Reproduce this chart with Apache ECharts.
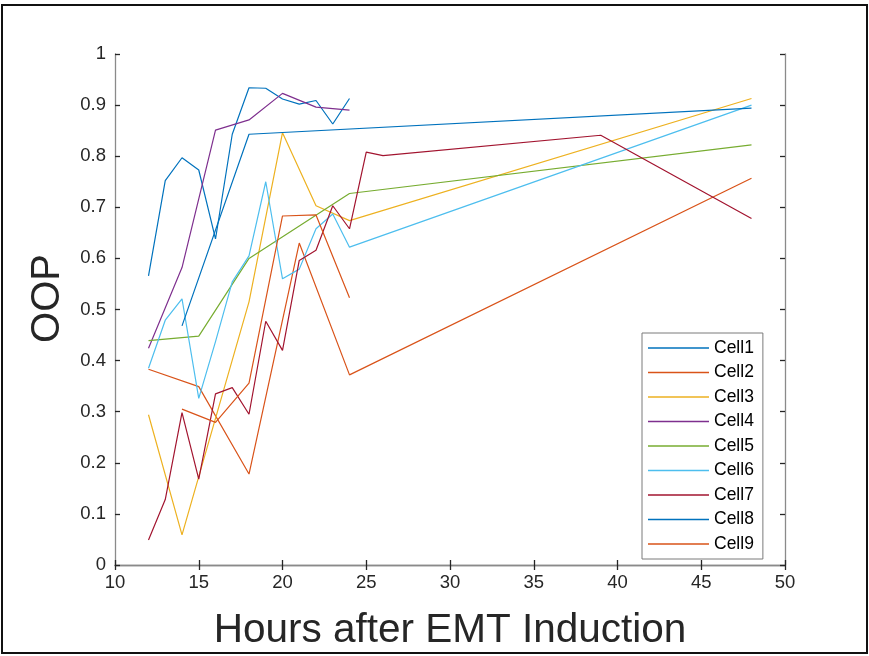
<!DOCTYPE html>
<html>
<head>
<meta charset="utf-8">
<script src="https://cdn.jsdelivr.net/npm/echarts@6/dist/echarts.min.js"></script>
<style>
  html, body { margin: 0; padding: 0; background: #fff; }
  #chart { width: 869px; height: 656px; }
</style>
</head>
<body>
<div id="chart"></div>
<script>
// Order parameter (OOP) per cell, sampled at hours after EMT induction
const cell1Hours = [12, 13, 14, 15, 16, 17, 18, 19, 20, 21, 22, 23, 24];
const cell1Vals  = [0.566, 0.752, 0.797, 0.773, 0.638, 0.843, 0.934, 0.933, 0.912, 0.902, 0.909, 0.863, 0.913];

const cell2Hours = [12, 15, 18, 21, 24, 48];
const cell2Vals  = [0.383, 0.349, 0.178, 0.630, 0.372, 0.757];

const cell3Hours = [12, 14, 18, 20, 22, 24, 48];
const cell3Vals  = [0.294, 0.059, 0.515, 0.846, 0.703, 0.674, 0.913];

const cell4Hours = [12, 14, 16, 18, 20, 22, 24];
const cell4Vals  = [0.424, 0.582, 0.851, 0.871, 0.923, 0.896, 0.890];

const cell5Hours = [12, 15, 18, 24, 48];
const cell5Vals  = [0.439, 0.448, 0.600, 0.727, 0.822];

const cell6Hours = [12, 13, 14, 15, 16, 17, 18, 19, 20, 21, 22, 23, 24, 48];
const cell6Vals  = [0.385, 0.479, 0.521, 0.326, 0.437, 0.554, 0.605, 0.750, 0.560, 0.579, 0.658, 0.687, 0.622, 0.900];

const cell7Hours = [12, 13, 14, 15, 16, 17, 18, 19, 20, 21, 22, 23, 24, 25, 26, 39, 48];
const cell7Vals  = [0.049, 0.128, 0.298, 0.168, 0.335, 0.347, 0.295, 0.477, 0.420, 0.596, 0.616, 0.703, 0.658, 0.808, 0.801, 0.841, 0.678];

const cell8Hours = [14, 18, 48];
const cell8Vals  = [0.468, 0.843, 0.894];

const cell9Hours = [14, 16, 18, 20, 22, 24];
const cell9Vals  = [0.305, 0.279, 0.356, 0.683, 0.685, 0.523];

const cellNames  = ['Cell1', 'Cell2', 'Cell3', 'Cell4', 'Cell5', 'Cell6', 'Cell7', 'Cell8', 'Cell9'];
const cellHours  = [cell1Hours, cell2Hours, cell3Hours, cell4Hours, cell5Hours, cell6Hours, cell7Hours, cell8Hours, cell9Hours];
const cellValues = [cell1Vals, cell2Vals, cell3Vals, cell4Vals, cell5Vals, cell6Vals, cell7Vals, cell8Vals, cell9Vals];
const cellColors = ['#0072BD', '#D95319', '#EDB120', '#7E2F8E', '#77AC30', '#4DBEEE', '#A2142F', '#0072BD', '#D95319'];

const xTitle = 'Hours after EMT Induction';
const yTitle = 'OOP';

const FONT = '"Liberation Sans", Arial, Helvetica, sans-serif';
const TEXT = '#262626';

const series = cellNames.map((name, i) => ({
  name: name,
  type: 'line',
  xAxisIndex: 0,
  yAxisIndex: 0,
  symbol: 'none',
  silent: true,
  animation: false,
  lineStyle: { color: cellColors[i], width: 1.2 },
  itemStyle: { color: cellColors[i] },
  data: cellHours[i].map((h, k) => [h, cellValues[i][k]])
}));

const tickStyle = { show: true, inside: true, length: 5, lineStyle: { color: TEXT, width: 1.3 } };
const lineStyle = { show: true, lineStyle: { color: '#8a8a8a', width: 1.3 } };

const option = {
  backgroundColor: '#fff',
  animation: false,
  grid: { left: 115, right: 84, top: 54, bottom: 91, containLabel: false },
  xAxis: [
    {
      type: 'value', position: 'bottom', min: 10, max: 50, interval: 5,
      axisLine: lineStyle, axisTick: tickStyle, splitLine: { show: false },
      axisLabel: { color: TEXT, fontSize: 18.5, fontFamily: FONT, margin: 8 },
      name: xTitle, nameLocation: 'middle', nameGap: 45,
      nameTextStyle: { color: TEXT, fontSize: 40.5, fontFamily: FONT }
    },
    {
      type: 'value', position: 'top', min: 10, max: 50, interval: 5,
      axisLine: lineStyle, axisTick: tickStyle, splitLine: { show: false },
      axisLabel: { show: false }
    }
  ],
  yAxis: [
    {
      type: 'value', position: 'left', min: 0, max: 1, interval: 0.1,
      axisLine: lineStyle, axisTick: tickStyle, splitLine: { show: false },
      axisLabel: { color: TEXT, fontSize: 18.5, fontFamily: FONT, margin: 9 },
      name: yTitle, nameLocation: 'middle', nameGap: 47,
      nameTextStyle: { color: TEXT, fontSize: 40, fontFamily: FONT, padding: [0, 0, 0, 22] }
    },
    {
      type: 'value', position: 'right', min: 0, max: 1, interval: 0.1,
      axisLine: lineStyle, axisTick: tickStyle, splitLine: { show: false },
      axisLabel: { show: false }
    }
  ],
  legend: {
    data: cellNames,
    orient: 'vertical',
    left: 642,
    top: 333,
    padding: [6, 9, 6, 6],
    icon: 'rect',
    itemWidth: 61,
    itemHeight: 1.5,
    itemGap: 6.5,
    borderColor: '#7a7a7a',
    borderWidth: 1,
    backgroundColor: '#fff',
    selectedMode: false,
    textStyle: { color: '#000', fontSize: 17.5, fontFamily: FONT, padding: [0, 0, 0, 0] }
  },
  graphic: [
    {
      type: 'rect',
      shape: { x: 2, y: 5, width: 865, height: 648 },
      style: { fill: 'none', stroke: '#111', lineWidth: 2 },
      silent: true
    }
  ],
  series: series
};

const chart = echarts.init(document.getElementById('chart'), null, { renderer: 'canvas' });
chart.setOption(option);
</script>
</body>
</html>
